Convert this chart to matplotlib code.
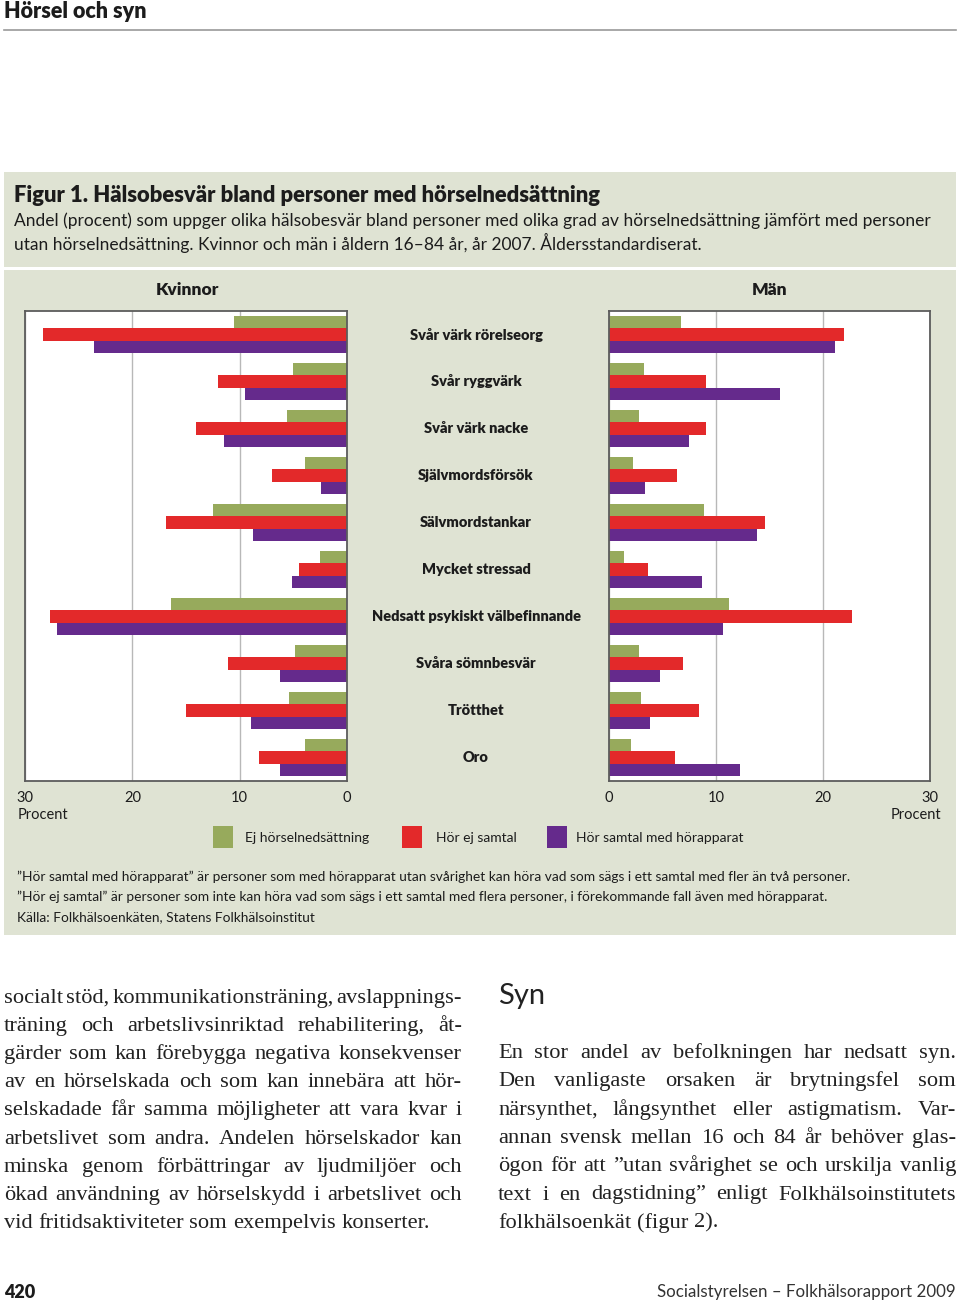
import matplotlib
matplotlib.use('Agg')
import matplotlib.pyplot as plt
from matplotlib.patches import Rectangle
import numpy as np

# data (percent)
categories = ['Svår värk rörelseorg', 'Svår ryggvärk', 'Svår värk nacke', 'Självmordsförsök',
              'Sälvmordstankar', 'Mycket stressad', 'Nedsatt psykiskt välbefinnande',
              'Svåra sömnbesvär', 'Trötthet', 'Oro']
series = ['Ej hörselnedsättning', 'Hör ej samtal', 'Hör samtal med hörapparat']
kv_ej = [10.5, 5.0, 5.6, 3.9, 12.5, 2.5, 16.4, 4.8, 5.4, 3.9]
kv_horej = [28.3, 12.0, 14.1, 7.0, 16.9, 4.5, 27.7, 11.1, 15.0, 8.2]
kv_hora = [23.6, 9.5, 11.5, 2.4, 8.8, 5.1, 27.0, 6.2, 8.9, 6.2]
man_ej = [6.7, 3.3, 2.8, 2.2, 8.9, 1.4, 11.2, 2.8, 3.0, 2.1]
man_horej = [22.0, 9.1, 9.1, 6.4, 14.6, 3.6, 22.7, 6.9, 8.4, 6.2]
man_hora = [21.1, 16.0, 7.5, 3.4, 13.8, 8.7, 10.7, 4.8, 3.8, 12.2]
xticks = [0, 10, 20, 30]

colors = ['#97aa5c', '#e3292a', '#652a8c']
BOX = '#dfe3d3'
INK = '#1c1c1c'
SANS = ['Lato', 'DejaVu Sans']
SERIF = ['Liberation Serif', 'DejaVu Serif']
BOLD = 'heavy'

left_lines = [
    'socialt stöd, kommunikationsträning, avslappnings-',
    'träning och arbetslivsinriktad rehabilitering, åt-',
    'gärder som kan förebygga negativa konsekvenser',
    'av en hörselskada och som kan innebära att hör-',
    'selskadade får samma möjligheter att vara kvar i',
    'arbetslivet som andra. Andelen hörselskador kan',
    'minska genom förbättringar av ljudmiljöer och',
    'ökad användning av hörselskydd i arbetslivet och',
    'vid fritidsaktiviteter som exempelvis konserter.',
]
right_lines = [
    'En stor andel av befolkningen har nedsatt syn.',
    'Den vanligaste orsaken är brytningsfel som',
    'närsynthet, långsynthet eller astigmatism. Var-',
    'annan svensk mellan 16 och 84 år behöver glas-',
    'ögon för att ”utan svårighet se och urskilja vanlig',
    'text i en dagstidning” enligt Folkhälsoinstitutets',
    'folkhälsoenkät (figur 2).',
]

W, H = 960, 1307
plt.rcParams['font.family'] = SANS
fig = plt.figure(figsize=(W / 100, H / 100), dpi=100)


def fx(x):
    return x / W


def fy(y):
    return 1 - y / H


def rect(x0, y0, x1, y1):
    return [fx(x0), fy(y1), (x1 - x0) / W, (y1 - y0) / H]


def txt(x, y, s, **kw):
    kw.setdefault('color', INK)
    return fig.text(fx(x), fy(y), s, **kw)


# page header
txt(4, 12, 'Hörsel och syn', fontsize=15.5, fontweight=BOLD, va='center')
fig.add_artist(plt.Line2D([fx(4), fx(956)], [fy(30), fy(30)], color='#9a9a9a', lw=1.2))

# figure box
fig.patches.append(Rectangle((fx(4), fy(267)), 952 / W, 95 / H, transform=fig.transFigure,
                             facecolor=BOX, edgecolor='none', zorder=-10))
fig.patches.append(Rectangle((fx(4), fy(935)), 952 / W, (935 - 270) / H, transform=fig.transFigure,
                             facecolor=BOX, edgecolor='none', zorder=-10))

txt(14, 195, 'Figur 1. Hälsobesvär bland personer med hörselnedsättning', fontsize=15.8,
    fontweight=BOLD, va='center')
txt(14, 221, 'Andel (procent) som uppger olika hälsobesvär bland personer med olika grad av '
    'hörselnedsättning jämfört med personer', fontsize=12.5, va='center')
txt(14, 243, 'utan hörselnedsättning. Kvinnor och män i åldern 16–84 år, år 2007. '
    'Åldersstandardiserat.', fontsize=12.5, va='center')

txt(187, 290, 'Kvinnor', fontsize=12.5, fontweight=BOLD, ha='center', va='center')
txt(770, 290, 'Män', fontsize=12.5, fontweight=BOLD, ha='center', va='center')

ypos = np.arange(len(categories))
bh = 0.266
offs = [0.239, 0.505, 0.771]


def panel(ax, vals, inverted):
    for k, v in enumerate(vals):
        ax.barh(ypos + offs[k], v, height=bh, color=colors[k], label=series[k], zorder=2)
    ax.set_ylim(len(categories), 0)
    ax.set_xlim((30, 0) if inverted else (0, 30))
    ax.set_xticks(xticks)
    ax.set_yticks([])
    ax.grid(axis='x', color='#b8b8b8', lw=1.0, zorder=1)
    ax.tick_params(axis='x', length=0, pad=7, labelsize=10.5, colors=INK)
    for sp in ax.spines.values():
        sp.set_color('#5c5c5c')
        sp.set_linewidth(1.3)
    ax.set_facecolor('white')
    ax.set_zorder(5)


axL = fig.add_axes(rect(25, 311, 347, 781))
panel(axL, [kv_ej, kv_horej, kv_hora], True)
axR = fig.add_axes(rect(609, 311, 930, 781))
panel(axR, [man_ej, man_horej, man_hora], False)

# category labels between panels, aligned with the bar groups
for i, c in enumerate(categories):
    axL.annotate(c, xy=(0, i + 0.5), xycoords='data', xytext=(476, 0),
                 textcoords=('figure pixels', 'offset points'), ha='center', va='center',
                 fontsize=10.5, fontweight=BOLD, color=INK, annotation_clip=False)

txt(18, 815, 'Procent', fontsize=10.5, va='center')
txt(941, 815, 'Procent', fontsize=10.5, va='center', ha='right')

# legend
for sx, tx, lab, col in [(213, 245, series[0], colors[0]), (402, 436, series[1], colors[1]),
                         (547, 576, series[2], colors[2])]:
    fig.patches.append(Rectangle((fx(sx), fy(848)), 20 / W, 22 / H, transform=fig.transFigure,
                                 facecolor=col, edgecolor='none'))
    txt(tx, 838, lab, fontsize=10, va='center')

txt(17, 877, '”Hör samtal med hörapparat” är personer som med hörapparat utan svårighet kan höra '
    'vad som sägs i ett samtal med fler än två personer.', fontsize=9.9, va='center')
txt(17, 897, '”Hör ej samtal” är personer som inte kan höra vad som sägs i ett samtal med flera '
    'personer, i förekommande fall även med hörapparat.', fontsize=9.9, va='center')
txt(17, 917, 'Källa: Folkhälsoenkäten, Statens Folkhälsoinstitut', fontsize=9.9, va='center')

# body text, justified
renderer = fig.canvas.get_renderer()


def justified(lines, x0, x1, y0, pitch, size):
    a1 = txt(0, 0, 'a a', fontsize=size, family=SERIF)
    a2 = txt(0, 0, 'aa', fontsize=size, family=SERIF)
    space = a1.get_window_extent(renderer).width - a2.get_window_extent(renderer).width
    a1.remove()
    a2.remove()
    for li, line in enumerate(lines):
        words = line.split(' ')
        y = y0 + li * pitch
        arts = [txt(x0, y, w, fontsize=size, family=SERIF, va='baseline', color='#222222')
                for w in words]
        widths = [a.get_window_extent(renderer).width for a in arts]
        if li == len(lines) - 1 or len(words) == 1:
            gap = space
        else:
            gap = max((x1 - x0 - sum(widths)) / (len(words) - 1), 0.5 * space)
        x = x0
        for a, w in zip(arts, widths):
            a.set_x(fx(x))
            x += w + gap


justified(left_lines, 4, 462, 1003, 28.1, 16.2)
txt(498, 1004, 'Syn', fontsize=21, va='baseline', color='#222222')
justified(right_lines, 498, 956, 1058, 28.3, 16.2)

# footer
txt(4, 1292, '420', fontsize=13, fontweight=BOLD, va='center')
txt(956, 1292, 'Socialstyrelsen – Folkhälsorapport 2009', fontsize=12.2,
    va='center', ha='right', color='#333333')

fig.savefig('out.png', dpi=100)
